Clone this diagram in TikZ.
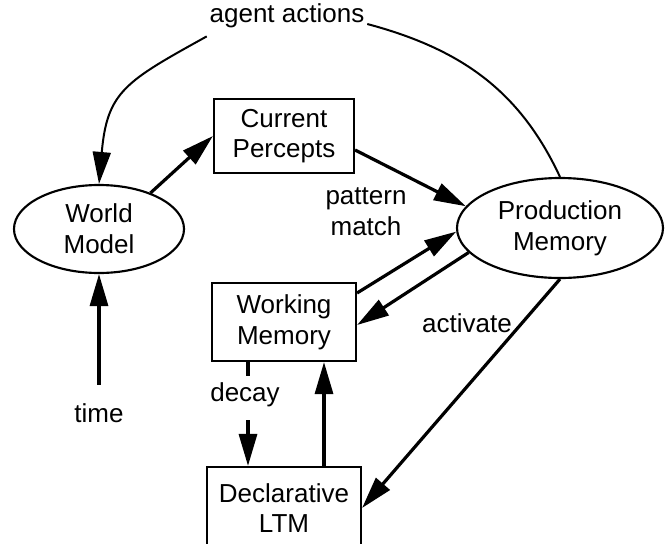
\documentclass[tikz,border=0pt]{standalone}
\usepackage{fontspec}
\setmainfont{Liberation Sans}
\usetikzlibrary{arrows.meta,shapes.geometric}
\begin{document}
\begin{tikzpicture}[x=0.75pt,y=0.75pt,
  every node/.style={font=\fontsize{19.5pt}{23pt}\selectfont},
  oval/.style={draw,ellipse,line width=1.6pt,inner sep=0pt,align=center},
  box/.style={draw,rectangle,line width=1.6pt,inner sep=0pt,align=center},
  lbl/.style={inner sep=2pt,align=center},
  conn/.style={line width=2.4pt,-{Triangle[length=24pt,width=13.5pt]}},
  plain/.style={line width=2.4pt},
  curve/.style={line width=1.5pt}]
\clip (0,0) rectangle (667,-543);

% memories and the world
\node[oval,minimum width=127.5pt,minimum height=66pt] (wmod) at (99,-229) {World\\Model};
\node[oval,minimum width=154.5pt,minimum height=75pt] (pm) at (560,-228) {Production\\Memory};
\node[box,minimum width=105pt,minimum height=55.5pt] (cp) at (284,-136) {Current\\Percepts};
\node[box,minimum width=108pt,minimum height=58.5pt] (wm) at (284,-322) {Working\\Memory};
\node[box,minimum width=115.5pt,minimum height=61.5pt] (ltm) at (284,-508) {Declarative\\LTM};

% labels
\node[lbl] (aa) at (287,-16) {agent actions};
\node[lbl] (pmatch) at (366,-212) {pattern\\match};
\node[lbl] (act) at (467,-323) {activate};
\node[lbl,inner ysep=5pt] (decay) at (245,-395) {decay};
\node[lbl,inner ysep=14pt] (time) at (99,-413) {time};

% agent actions loop
\draw[curve,-{Triangle[length=24pt,width=13.5pt]}]
  ([yshift=-4pt]aa.south west) to[out=209,in=85,looseness=1.3] (wmod.north);
\draw[curve] ([yshift=-6pt]aa.east) to[out=-15,in=115] (pm.north);

% perception and matching
\draw[conn] (wmod.35) -- (cp.west);
\draw[conn] ([yshift=-10.5pt]cp.east) -- (pm.167);
\draw[conn] ([yshift=21.75pt]wm.east) -- (pm.182);
\draw[conn] (pm.195) -- ([yshift=-2.25pt]wm.east);
\draw[conn] (pm.south) -- (ltm.east);

% long-term memory exchange
\draw[conn] ([xshift=30pt]ltm.north) -- ([xshift=30pt]wm.south);
\draw[plain] ([xshift=-27pt]wm.south) -- ([xshift=-27pt]wm.south |- decay.north);
\draw[conn,shorten <=4.5pt] ([xshift=-27pt]ltm.north |- decay.south) -- ([xshift=-27pt]ltm.north);

% time
\draw[conn] (time) -- (wmod);
\end{tikzpicture}
\end{document}
